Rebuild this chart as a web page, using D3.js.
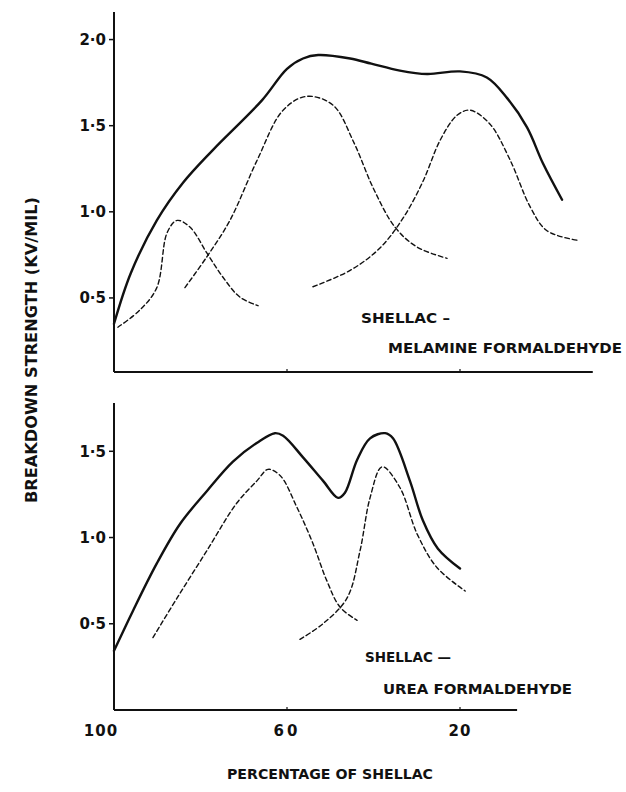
<!DOCTYPE html>
<html>
<head>
<meta charset="utf-8">
<script src="https://cdn.jsdelivr.net/npm/d3@7"></script>
<style>
  html, body { margin: 0; padding: 0; background: #fff; }
  svg { display: block; }
  text { font-family: "DejaVu Sans", "Liberation Sans", sans-serif; font-weight: bold; fill: #111; }
</style>
</head>
<body>
<svg id="chart" width="626" height="792"></svg>
<script>
// ---------- data (percentage of shellac, breakdown strength kV/mil) ----------
const topSolid = [
  [100, 0.35], [96.1, 0.645], [90.1, 0.95], [84.0, 1.17], [77.1, 1.36],
  [65.8, 1.647], [60.0, 1.83], [56.3, 1.89], [52.8, 1.91], [45.4, 1.89], [40.5, 1.86],
  [33.9, 1.82], [27.6, 1.80], [20.0, 1.815], [13.8, 1.78], [9.1, 1.66], [4.5, 1.49],
  [0.8, 1.28], [-3.6, 1.07]
];
const topDashA = [
  [99.1, 0.33], [94.0, 0.43], [90.1, 0.56], [87.7, 0.88], [85.4, 0.95], [82.4, 0.91],
  [78.5, 0.76], [74.8, 0.62], [70.9, 0.505], [66.7, 0.455]
];
const topDashB = [
  [83.6, 0.56], [78.5, 0.74], [73.2, 0.95], [66.9, 1.30], [60.9, 1.59], [55.5, 1.67],
  [49.4, 1.62], [44.5, 1.40], [40.1, 1.14], [35.0, 0.91], [29.9, 0.795], [23.0, 0.73]
];
const topDashC = [
  [54.0, 0.565], [45.4, 0.66], [38.5, 0.79], [33.0, 0.97], [28.5, 1.18], [24.6, 1.415],
  [20.7, 1.56], [17.7, 1.59], [13.1, 1.51], [8.4, 1.30], [3.8, 1.03], [-0.1, 0.89], [-7.1, 0.835]
];
const botSolid = [
  [100, 0.343], [95.6, 0.576], [90.1, 0.85], [84.7, 1.08], [78.5, 1.27], [72.5, 1.44],
  [66.9, 1.55], [62.8, 1.605], [60.9, 1.59], [56.3, 1.465], [51.7, 1.33], [48.2, 1.23],
  [46.6, 1.26], [43.8, 1.45], [40.8, 1.575], [37.3, 1.605], [35.5, 1.575], [31.6, 1.33],
  [28.6, 1.10], [25.1, 0.935], [20.0, 0.82]
];
const botDashA = [
  [91.0, 0.42], [85.4, 0.65], [78.5, 0.925], [71.6, 1.20], [66.9, 1.33], [64.4, 1.395],
  [61.6, 1.36], [57.7, 1.175], [54.0, 0.965], [50.8, 0.75], [47.7, 0.595], [43.8, 0.52]
];
const botDashB = [
  [57.0, 0.41], [51.7, 0.50], [46.1, 0.65], [43.1, 0.925], [40.8, 1.23], [38.0, 1.41],
  [33.9, 1.29], [29.9, 1.02], [25.3, 0.825], [18.8, 0.69]
];
const yTicksTop = [0.5, 1.0, 1.5, 2.0];
const yTicksBot = [0.5, 1.0, 1.5];
const xTicks = [100, 60, 20];
const yTickLabel = v => d3.format(".1f")(v).replace(".", "·");
const topTitle = ["SHELLAC –", "MELAMINE FORMALDEHYDE"];
const botTitle = ["SHELLAC —", "UREA FORMALDEHYDE"];
const yLabel = "BREAKDOWN STRENGTH (KV/MIL)";
const xLabel = "PERCENTAGE OF SHELLAC";

// ---------- scales ----------
const svg = d3.select("#chart");
const x = d3.scaleLinear().domain([100, 20]).range([114, 460]);
const yTop = d3.scaleLinear().domain([0.07, 2.16]).range([372, 12]);
const yBot = d3.scaleLinear().domain([0.0, 1.78]).range([710, 403]);

function panel(y, xEnd, yTicks, curves, title, titlePos) {
  const g = svg.append("g");
  const [y0, y1] = y.domain();
  g.append("line").attr("x1", x(100)).attr("x2", x(100))
    .attr("y1", y(y0)).attr("y2", y(y1))
    .attr("stroke", "#111").attr("stroke-width", 2);
  g.append("line").attr("x1", x(100)).attr("x2", x(xEnd))
    .attr("y1", y(y0)).attr("y2", y(y0))
    .attr("stroke", "#111").attr("stroke-width", 2);
  const t = g.selectAll(".yt").data(yTicks).enter().append("g");
  t.append("line").attr("x1", x(100) - 5).attr("x2", x(100))
    .attr("y1", d => y(d)).attr("y2", d => y(d))
    .attr("stroke", "#111").attr("stroke-width", 1.5);
  t.append("text").attr("x", x(100) - 8).attr("y", d => y(d))
    .attr("dy", "0.36em").attr("text-anchor", "end")
    .attr("font-size", 15).text(yTickLabel);
  g.selectAll(".xt").data(xTicks.slice(1)).enter().append("line")
    .attr("x1", d => x(d)).attr("x2", d => x(d))
    .attr("y1", y(y0)).attr("y2", y(y0) - 3)
    .attr("stroke", "#111").attr("stroke-width", 1.2);

  const line = d3.line().x(d => x(d[0])).y(d => y(d[1])).curve(d3.curveCatmullRom.alpha(0.5));
  curves.forEach(c => {
    g.append("path").attr("d", line(c.data)).attr("fill", "none")
      .attr("stroke", "#111")
      .attr("stroke-width", c.dash ? 1.4 : 2.4)
      .attr("stroke-dasharray", c.dash ? "4.5,3" : null)
      .attr("stroke-linecap", "round").attr("stroke-linejoin", "round");
  });
  g.append("text").attr("x", titlePos[0]).attr("y", titlePos[1])
    .attr("font-size", 14).attr("textLength", titlePos[4]).attr("lengthAdjust", "spacingAndGlyphs")
    .text(title[0]);
  g.append("text").attr("x", titlePos[2]).attr("y", titlePos[3])
    .attr("font-size", 14).attr("textLength", titlePos[5]).attr("lengthAdjust", "spacingAndGlyphs")
    .text(title[1]);
}

panel(yTop, -10.7, yTicksTop, [
  { data: topSolid, dash: false },
  { data: topDashA, dash: true },
  { data: topDashB, dash: true },
  { data: topDashC, dash: true }
], topTitle, [361, 323, 388, 353, 89, 234]);

panel(yBot, 6.8, yTicksBot, [
  { data: botSolid, dash: false },
  { data: botDashA, dash: true },
  { data: botDashB, dash: true }
], botTitle, [365, 662, 383, 694, 86, 189]);

svg.selectAll(".xl").data(xTicks).enter().append("text")
  .attr("x", d => d === 100 ? x(d) - 13 : x(d))
  .attr("y", 736).attr("text-anchor", "middle")
  .attr("font-size", 15).attr("letter-spacing", d => d === 60 ? 3 : 1)
  .text(d => d);

svg.append("text").attr("x", 330).attr("y", 779).attr("text-anchor", "middle")
  .attr("font-size", 14).attr("textLength", 206).attr("lengthAdjust", "spacingAndGlyphs")
  .text(xLabel);
svg.append("text").attr("transform", "translate(37,350) rotate(-90)")
  .attr("text-anchor", "middle")
  .attr("font-size", 15).attr("textLength", 306).attr("lengthAdjust", "spacingAndGlyphs")
  .text(yLabel);
</script>
</body>
</html>
